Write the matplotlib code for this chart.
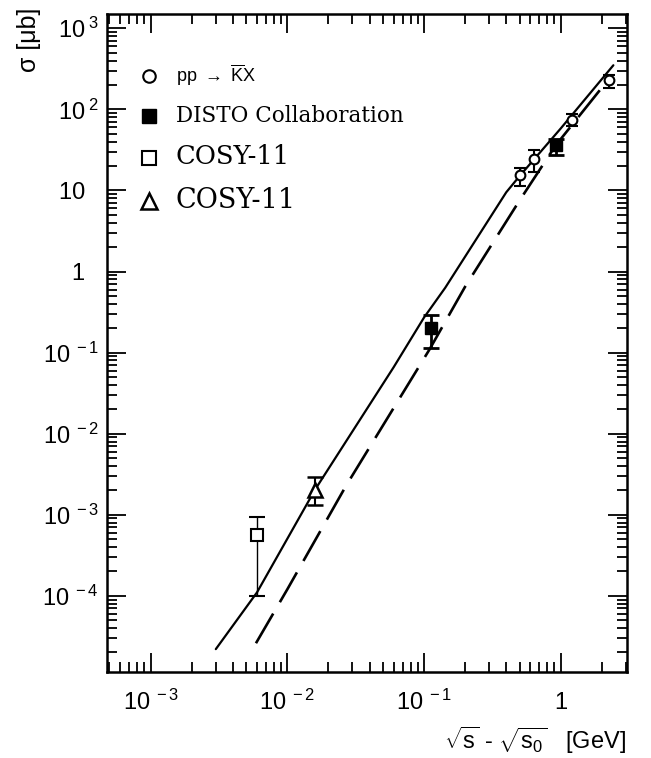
import numpy as np
import matplotlib
matplotlib.use("Agg")
import matplotlib.pyplot as plt
from matplotlib.lines import Line2D
from matplotlib.ticker import LogLocator, NullFormatter

plt.rcParams['font.family'] = ['Liberation Sans', 'DejaVu Sans']
plt.rcParams['mathtext.fontset'] = 'custom'
plt.rcParams['mathtext.rm'] = 'Liberation Sans'
plt.rcParams['mathtext.it'] = 'Liberation Sans:italic'
plt.rcParams['mathtext.bf'] = 'Liberation Sans:bold'

# model curves
solid_x = [0.003, 0.006, 0.016, 0.06, 0.1, 0.143, 0.4, 0.5, 1.0, 2.43]
solid_y = [2.2e-5, 1.1e-4, 2.05e-3, 0.066, 0.27, 0.63, 9.5, 15, 58, 350]
dash_x = [0.0059, 0.01, 0.027, 0.11, 0.2, 0.5, 0.92, 2.0]
dash_y = [2.6e-5, 1.2e-4, 2.3e-3, 0.11, 0.65, 7.5, 36, 185]

# pp -> K X data (open circles)
pp_x = [0.50, 0.635, 1.22, 2.25]
pp_y = [15.3, 24.4, 75, 233]
pp_lo = [11.4, 17.1, 62.5, 184]
pp_hi = [19, 31.8, 86.9, 268]

# DISTO (filled squares)
disto_x = [0.112, 0.92]
disto_y = [0.199, 36]
disto_lo = [0.113, 27.4]
disto_hi = [0.29, 43]

# COSY-11 (open square)
cosy_sq_x = [0.006]
cosy_sq_y = [5.6e-4]
cosy_sq_lo = [1.0e-4]
cosy_sq_hi = [9.3e-4]

# COSY-11 (triangle)
cosy_tr_x = [0.016]
cosy_tr_y = [2.0e-3]
cosy_tr_lo = [1.33e-3]
cosy_tr_hi = [2.96e-3]

xticks = [1e-3, 1e-2, 1e-1, 1]
xlabels = [r"$\mathdefault{10^{\;-3}}$", r"$\mathdefault{10^{\;-2}}$",
           r"$\mathdefault{10^{\;-1}}$", "1"]
yticks = [1e-4, 1e-3, 1e-2, 1e-1, 1, 10, 1e2, 1e3]
ylabels = [r"$\mathdefault{10^{\;-4}}$", r"$\mathdefault{10^{\;-3}}$",
           r"$\mathdefault{10^{\;-2}}$", r"$\mathdefault{10^{\;-1}}$",
           u"1\u2007", u"10\u2007",
           r"$\mathdefault{10^{\;2}}$", r"$\mathdefault{10^{\;3}}$"]


def yerr(y, lo, hi):
    y = np.array(y)
    return [y - np.array(lo), np.array(hi) - y]


fig = plt.figure(figsize=(6.51, 7.58), dpi=100)
ax = fig.add_axes([0.1644, 0.1135, 0.7988, 0.868])
ax.set_xscale("log")
ax.set_yscale("log")

ax.plot(solid_x, solid_y, color="k", lw=1.6, solid_capstyle="round")
ax.plot(dash_x, dash_y, color="k", lw=1.9, dashes=(13, 5))

ax.errorbar(pp_x, pp_y, yerr=yerr(pp_y, pp_lo, pp_hi), fmt="o", mfc="white",
            mec="k", mew=1.5, ms=7, color="k", elinewidth=1.5, capsize=4, capthick=1.5)
ax.errorbar(disto_x, disto_y, yerr=yerr(disto_y, disto_lo, disto_hi), fmt="s",
            mfc="k", mec="k", ms=9, color="k", elinewidth=2, capsize=6, capthick=2)
ax.errorbar(cosy_sq_x, cosy_sq_y, yerr=yerr(cosy_sq_y, cosy_sq_lo, cosy_sq_hi), fmt="s",
            mfc="white", mec="k", mew=1.5, ms=9, color="k", elinewidth=1, capsize=6, capthick=1.5)
ax.errorbar(cosy_tr_x, cosy_tr_y, yerr=yerr(cosy_tr_y, cosy_tr_lo, cosy_tr_hi), fmt="^",
            mfc="white", mec="k", mew=1.8, ms=10, color="k", elinewidth=1.5, capsize=6, capthick=1.5)

for a in (ax.xaxis, ax.yaxis):
    a.set_minor_locator(LogLocator(base=10, subs=np.arange(2, 10), numticks=20))
    a.set_minor_formatter(NullFormatter())
ax.set_xticks(xticks, xlabels, va="baseline")
ax.set_yticks(yticks, ylabels)
ax.set_xlim(4.8e-4, 3.06)
ax.set_ylim(1.15e-5, 1.5e3)

ax.tick_params(which="both", direction="in", top=True, right=True, width=1.3, labelsize=17)
ax.tick_params(which="major", length=14)
ax.tick_params(axis="x", which="major", pad=27)
ax.tick_params(axis="y", which="major", pad=6)
ax.tick_params(which="minor", length=7)
for s in ax.spines.values():
    s.set_linewidth(1.8)

fig.text(29 / 651, 1 - 40 / 758, u"\u03c3 [\u03bcb]", fontsize=18, rotation=90,
         ha="center", va="center")
fig.text(626 / 651, 1 - 740 / 758,
         r"$\sqrt{\mathrm{s}}$ - $\sqrt{\mathrm{s}_{0}}$   [GeV]", fontsize=17,
         ha="right", va="center")

handles = [
    Line2D([], [], ls="none", marker="o", mfc="white", mec="k", mew=1.5, ms=9),
    Line2D([], [], ls="none", marker="s", mfc="k", mec="k", ms=10),
    Line2D([], [], ls="none", marker="s", mfc="white", mec="k", mew=1.5, ms=10),
    Line2D([], [], ls="none", marker="^", mfc="white", mec="k", mew=1.8, ms=11),
]
labels = [r"pp $\rightarrow$ $\overline{\mathrm{K}}$X", "DISTO Collaboration",
          "COSY-11", "COSY-11"]
leg = ax.legend(handles, labels, loc="upper left", bbox_to_anchor=(0.049, 0.937),
                frameon=False, handlelength=1.0, handletextpad=1.0, labelspacing=0.95,
                borderaxespad=0, fontsize=13)
sizes = [13, 15.5, 18.5, 19.5]
for t, sz in zip(leg.get_texts(), sizes):
    t.set_fontsize(sz)
    if sz > 13:
        t.set_family("DejaVu Serif")

fig.savefig("out.png", dpi=100)
